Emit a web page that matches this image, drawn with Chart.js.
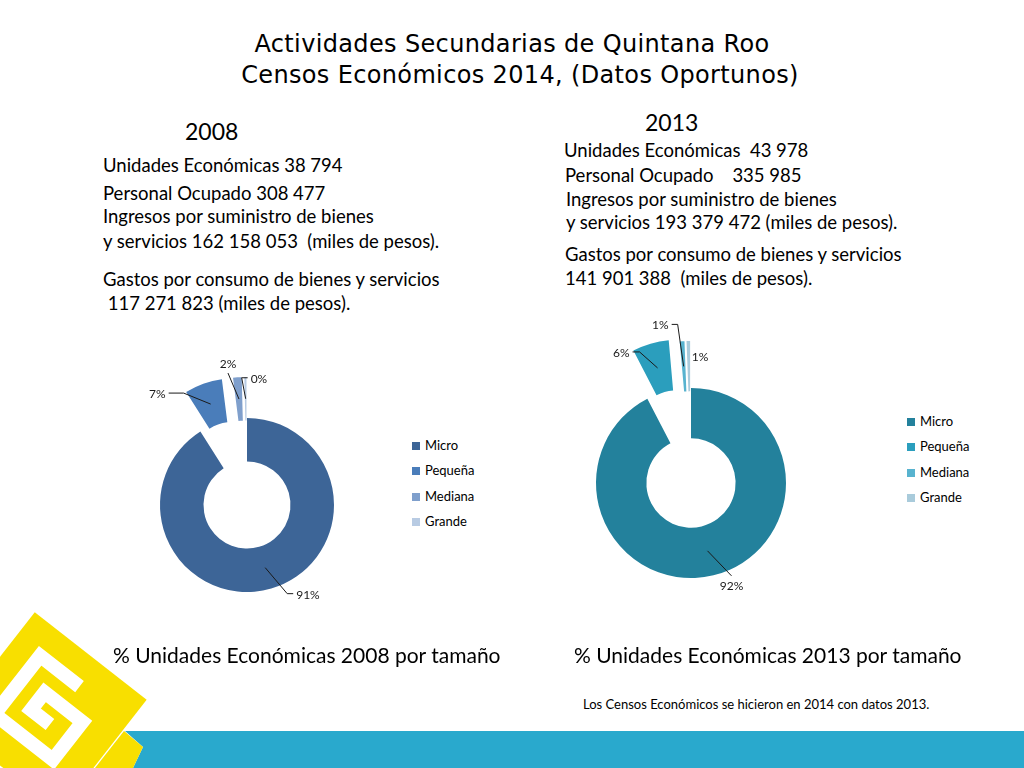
<!DOCTYPE html>
<html lang="es">
<head>
<meta charset="utf-8">
<title>Actividades Secundarias de Quintana Roo</title>
<script src="https://cdn.jsdelivr.net/npm/chart.js@4"></script>
<style>
  html, body { margin: 0; padding: 0; background: #fff; }
  #slide { position: relative; width: 1024px; height: 768px; overflow: hidden;
           font-family: Lato, "Open Sans", sans-serif; color: #000; }
  .t { position: absolute; white-space: pre; font-size: 18.5px; line-height: 20px; }
  .year { font-size: 23px; line-height: 28px; }
  .cap { font-size: 21px; line-height: 24px; }
  .note { font-size: 13px; line-height: 16px; }
  .title { position: absolute; white-space: pre; left: 0; width: 1024px; text-align: center;
           font-family: "DejaVu Sans", sans-serif; font-size: 24px; letter-spacing: 0.35px; line-height: 30px; }
  .legend { position: absolute; font-size: 13px; }
  .legend .row { height: 25.4px; line-height: 25.4px; white-space: nowrap; }
  .legend .sw { display: inline-block; width: 8px; height: 8px; margin-right: 5px; vertical-align: 0; }
  canvas { position: absolute; }
  #deco { position: absolute; left: 0; top: 0; }
</style>
</head>
<body>
<div id="slide">
  <svg id="deco" width="1024" height="768">
    <polygon points="125,731 1024,731 1024,768 133,768 143,747" fill="#29a9cd"/>
    <g transform="translate(47,712) rotate(38)">
      <rect x="-71" y="-71" width="142" height="142" fill="#f8df00"/>
      <path d="M10,-40 L-40,-40 L-40,34 L34,34 L34,-14 L-14,-14 L-14,8 L10,8"
            fill="none" stroke="#fff" stroke-width="14" stroke-linejoin="miter"/>
    </g>
    <polygon points="124,731 143,747 133,768 95,768" fill="#f8df00"/>
  </svg>

  <div class="title" style="top:29px">Actividades Secundarias de Quintana Roo</div>
  <div class="title" style="top:60px;padding-left:16px;box-sizing:border-box">Censos Económicos 2014, (Datos Oportunos)</div>

  <div class="t year" style="left:185px;top:117px">2008</div>
  <div class="t" style="left:103px;top:155px">Unidades Económicas 38 794</div>
  <div class="t" style="left:103px;top:183px">Personal Ocupado 308 477</div>
  <div class="t" style="left:103px;top:206px">Ingresos por suministro de bienes</div>
  <div class="t" style="left:103px;top:231px">y servicios 162 158 053  (miles de pesos).</div>
  <div class="t" style="left:103px;top:269px">Gastos por consumo de bienes y servicios</div>
  <div class="t" style="left:103px;top:293px"> 117 271 823 (miles de pesos).</div>

  <div class="t year" style="left:645px;top:108px">2013</div>
  <div class="t" style="left:564px;top:140px">Unidades Económicas  43 978</div>
  <div class="t" style="left:565px;top:165px">Personal Ocupado    335 985</div>
  <div class="t" style="left:566px;top:189px">Ingresos por suministro de bienes</div>
  <div class="t" style="left:566px;top:212px">y servicios 193 379 472 (miles de pesos).</div>
  <div class="t" style="left:565px;top:244px">Gastos por consumo de bienes y servicios</div>
  <div class="t" style="left:565px;top:268px">141 901 388  (miles de pesos).</div>

  <canvas id="chart2008" width="300" height="310" style="left:100px;top:340px"></canvas>
  <canvas id="chart2013" width="330" height="345" style="left:530px;top:300px"></canvas>

  <div class="legend" id="legend2008" style="left:412px;top:433px"></div>
  <div class="legend" id="legend2013" style="left:907px;top:409px"></div>

  <div class="t cap" style="left:113px;top:643px">% Unidades Económicas 2008 por tamaño</div>
  <div class="t cap" style="left:574px;top:643px">% Unidades Económicas 2013 por tamaño</div>
  <div class="t note" style="left:583px;top:696px">Los Censos Económicos se hicieron en 2014 con datos 2013.</div>
</div>

<script>
// datos
const categories = ["Micro", "Pequeña", "Mediana", "Grande"];
const shares2008 = [91.0, 7.0, 1.6, 0.4];
const shares2013 = [92.4, 6.2, 0.8, 0.6];

const colors2008 = ["#3d6597", "#4a7dba", "#7f9fcc", "#b8cbe3"];
const colors2013 = ["#23819c", "#2b9ebd", "#58b3cf", "#a9cbdb"];

// separacion de cada sector (px), como en PowerPoint
const explode2008 = [0, 42, 41, 41];
const explode2013 = [0, 50, 47, 47];

// etiquetas con lineas guia (desplazamiento desde el punto medio de cada sector)
const callouts2008 = [
  { dx: 22, dy: 26, tail: 6, align: "left" },
  { dx: -27, dy: -11, tail: -15, align: "right" },
  { dx: -11, dy: -26, tail: 0, align: "top" },
  { dx: -4, dy: -21, tail: 6, align: "left" }
];
const callouts2013 = [
  { dx: 24, dy: 25, tail: 0, align: "bottom" },
  { dx: -18, dy: -16, tail: -7, align: "right" },
  { dx: -6, dy: -42, tail: -6, align: "right" },
  { dx: 0, dy: -10, line: false, align: "left" }
];

// dibuja cada sector trasladado a lo largo de su angulo medio
function makeExplode(dist) {
  return {
    id: "explode",
    beforeDatasetDraw(chart, args) {
      const ctx = chart.ctx;
      args.meta.data.forEach((arc, i) => {
        const mid = (arc.startAngle + arc.endAngle) / 2;
        ctx.save();
        ctx.translate(Math.cos(mid) * dist[i], Math.sin(mid) * dist[i]);
        arc.draw(ctx, chart.chartArea);
        ctx.restore();
      });
      return false;
    }
  };
}

function makeCallouts(items, dist) {
  return {
    id: "callouts",
    afterDatasetsDraw(chart) {
      const ctx = chart.ctx;
      const ds = chart.data.datasets[0];
      const meta = chart.getDatasetMeta(0);
      const total = ds.data.reduce((a, b) => a + b, 0);
      ctx.save();
      ctx.font = "12px Lato, sans-serif";
      ctx.fillStyle = "#1a1a1a";
      ctx.strokeStyle = "#1a1a1a";
      ctx.lineWidth = 1;
      meta.data.forEach((arc, i) => {
        const mid = (arc.startAngle + arc.endAngle) / 2;
        const r = (arc.innerRadius + arc.outerRadius) / 2 + dist[i];
        const ax = arc.x + Math.cos(mid) * r;
        const ay = arc.y + Math.sin(mid) * r;
        const c = items[i];
        const ex = ax + c.dx, ey = ay + c.dy;
        const tx = ex + (c.tail || 0);
        if (c.line !== false) {
          ctx.beginPath();
          ctx.moveTo(ax, ay);
          ctx.lineTo(ex, ey);
          if (c.tail) ctx.lineTo(tx, ey);
          ctx.stroke();
        }
        const label = Math.round(ds.data[i] / total * 100) + "%";
        if (c.align === "left") {
          ctx.textAlign = "left"; ctx.textBaseline = "middle";
          ctx.fillText(label, tx + 3, ey + 1);
        } else if (c.align === "right") {
          ctx.textAlign = "right"; ctx.textBaseline = "middle";
          ctx.fillText(label, tx - 3, ey + 1);
        } else if (c.align === "top") {
          ctx.textAlign = "center"; ctx.textBaseline = "bottom";
          ctx.fillText(label, ex, ey - 3);
        } else {
          ctx.textAlign = "center"; ctx.textBaseline = "top";
          ctx.fillText(label, ex, ey + 4);
        }
      });
      ctx.restore();
    }
  };
}

function buildLegend(id, colors) {
  const el = document.getElementById(id);
  el.innerHTML = categories.map((c, i) =>
    '<div class="row"><span class="sw" style="background:' + colors[i] + '"></span>' + c + '</div>'
  ).join("");
}

function donut(id, shares, colors, explode, cutout, padding, callouts) {
  return new Chart(document.getElementById(id), {
    type: "doughnut",
    data: {
      labels: categories,
      datasets: [{
        data: shares,
        backgroundColor: colors,
        borderWidth: 0,
        hoverOffset: 0
      }]
    },
    options: {
      responsive: false,
      animation: false,
      cutout: cutout,
      layout: { padding: padding },
      plugins: {
        legend: { display: false },
        tooltip: { enabled: false }
      }
    },
    plugins: [makeExplode(explode), makeCallouts(callouts, explode)]
  });
}

donut("chart2008", shares2008, colors2008, explode2008, "50%",
      { left: 60, right: 66, top: 78, bottom: 58 }, callouts2008);
donut("chart2013", shares2013, colors2013, explode2013, "47%",
      { left: 66, right: 74, top: 88, bottom: 67 }, callouts2013);

buildLegend("legend2008", colors2008);
buildLegend("legend2013", colors2013);
</script>
</body>
</html>
